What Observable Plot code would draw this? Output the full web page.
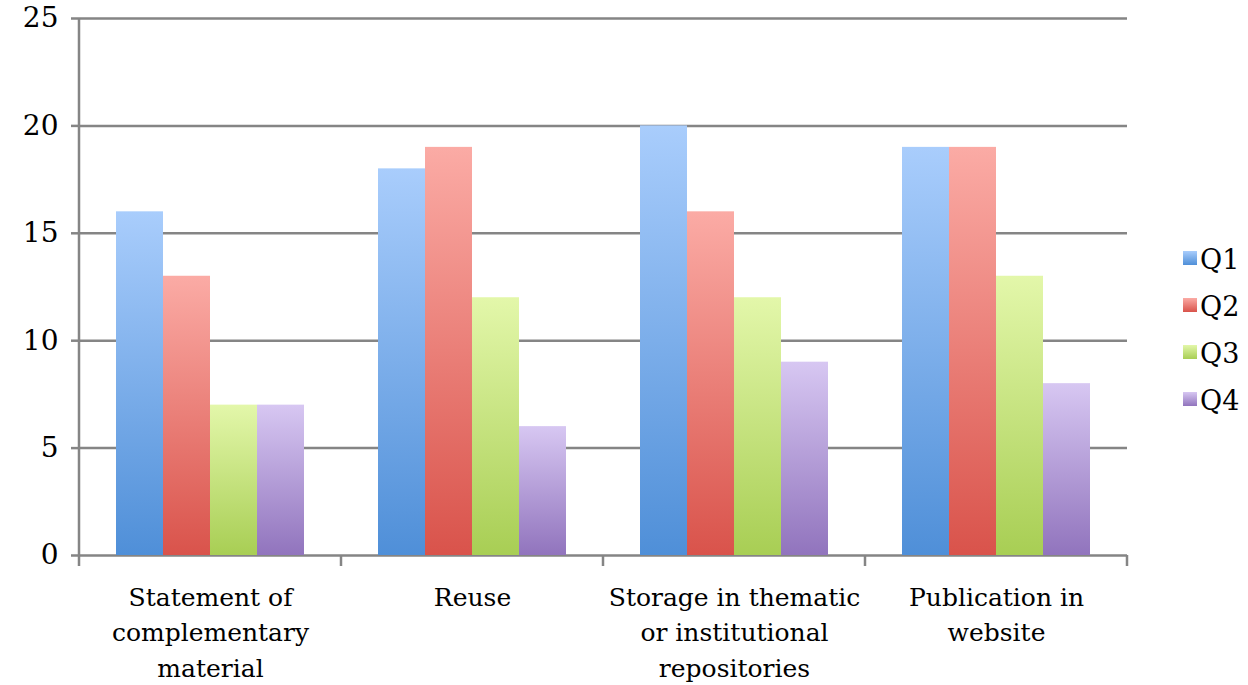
<!DOCTYPE html>
<html>
<head>
<meta charset="utf-8">
<script src="https://cdn.jsdelivr.net/npm/d3@7"></script>
<script src="https://cdn.jsdelivr.net/npm/@observablehq/plot@0.6"></script>
<style>
  html, body { margin: 0; padding: 0; background: #fff; }
  #wrap { position: relative; width: 1248px; height: 685px; font-family: "DejaVu Serif", serif; }
  #legend { position: absolute; left: 1183px; top: 236px; }
  .item { height: 47px; line-height: 47px; display: flex; align-items: center; font-size: 27px; color: #000; }
  .sw { width: 14px; height: 14px; margin-right: 3px; margin-top: -4px; }
</style>
</head>
<body>
<div id="wrap"></div>
<script>
const categories = ["Statement of complementary material", "Reuse", "Storage in thematic or institutional repositories", "Publication in website"];
const categoryLabels = ["Statement of\ncomplementary\nmaterial", "Reuse", "Storage in thematic\nor institutional\nrepositories", "Publication in\nwebsite"];
const quarters = ["Q1", "Q2", "Q3", "Q4"];
const q1 = [16, 18, 20, 19];
const q2 = [13, 19, 16, 19];
const q3 = [7, 12, 12, 13];
const q4 = [7, 6, 9, 8];
const yTicks = [0, 5, 10, 15, 20, 25];
const gradTop = ["#a9cdfc", "#fbaba5", "#e3f7aa", "#d7c7f2"];
const gradBottom = ["#4f8fd8", "#d9534b", "#a8ce54", "#9174bd"];

const series = [q1, q2, q3, q4];
const data = [];
categories.forEach((c, i) => quarters.forEach((q, j) => data.push({cat: c, q, value: series[j][i]})));
const labelOf = new Map(categories.map((c, i) => [c, categoryLabels[i]]));

const plot = Plot.plot({
  width: 1248,
  height: 685,
  marginLeft: 78,
  marginRight: 120,
  marginTop: 18,
  marginBottom: 130,
  style: {fontFamily: "DejaVu Serif", fontSize: "25px", color: "#000", background: "#fff"},
  fx: {domain: categories, padding: 0, label: null},
  x: {domain: quarters, paddingInner: 0, paddingOuter: 0.75, axis: null, label: null},
  y: {domain: [0, 25], label: null},
  color: {domain: quarters, range: quarters.map(q => `url(#grad-${q})`)},
  marks: [
    Plot.gridY(yTicks, {stroke: "#858585", strokeOpacity: 1, strokeWidth: 2.5}),
    Plot.barY(data, {fx: "cat", x: "q", y: "value", fill: "q"}),
    Plot.axisY(yTicks, {tickSize: 8, tickPadding: 13, stroke: "#858585", strokeWidth: 2.5, fontSize: 28, fill: "#000", label: null}),
    Plot.axisFx({anchor: "bottom", tickSize: 0, tickPadding: 25, lineHeight: 1.42, tickFormat: d => labelOf.get(d), fontSize: 25, fill: "#000", label: null})
  ]
});

const svg = d3.select(plot);
const defs = svg.insert("defs", ":first-child");
quarters.forEach((q, i) => {
  const g = defs.append("linearGradient").attr("id", `grad-${q}`).attr("x1", 0).attr("y1", 0).attr("x2", 0).attr("y2", 1);
  g.append("stop").attr("offset", "0%").attr("stop-color", gradTop[i]);
  g.append("stop").attr("offset", "100%").attr("stop-color", gradBottom[i]);
});

// axis line and category boundary ticks from the library's scales
const fx = plot.scale("fx");
const ys = plot.scale("y");
const y0 = ys.apply(0), yTop = ys.apply(25);
const bounds = categories.map(c => fx.apply(c));
bounds.push(fx.apply(categories[categories.length - 1]) + fx.bandwidth);
const ax = svg.append("g").attr("stroke", "#858585").attr("stroke-width", 2.5);
ax.append("line").attr("x1", bounds[0]).attr("x2", bounds[0]).attr("y1", yTop).attr("y2", y0 + 11);
bounds.slice(1).forEach(b => ax.append("line").attr("x1", b).attr("x2", b).attr("y1", y0).attr("y2", y0 + 11));

document.getElementById("wrap").appendChild(plot);

const legend = d3.select("#wrap").append("div").attr("id", "legend");
quarters.forEach((q, i) => {
  const it = legend.append("div").attr("class", "item");
  it.append("div").attr("class", "sw").style("background", `linear-gradient(${gradTop[i]}, ${gradBottom[i]})`);
  it.append("span").text(q);
});
</script>
</body>
</html>
